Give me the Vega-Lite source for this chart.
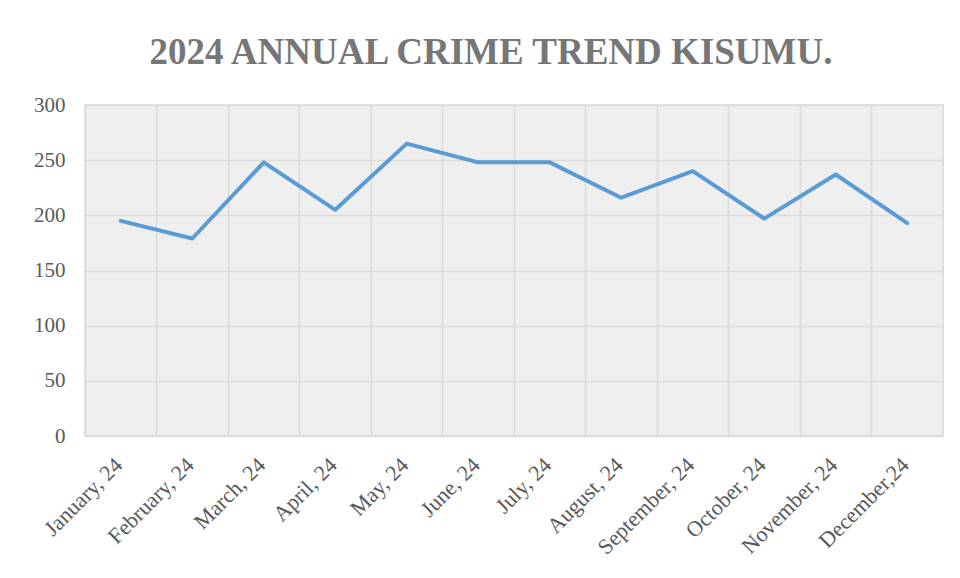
{
  "$schema": "https://vega.github.io/schema/vega-lite/v6.json",
  "width": 858,
  "height": 331,
  "autosize": {"type": "none"},
  "padding": {"left": 85, "top": 105, "right": 17, "bottom": 142},
  "background": "white",
  "title": {
    "text": "2024 ANNUAL CRIME TREND KISUMU.",
    "font": "Liberation Serif",
    "fontSize": 37,
    "fontWeight": "bold",
    "color": "#767676",
    "anchor": "middle",
    "dx": -23,
    "offset": 22
  },
  "data": {
    "values": [
      {"month": "January, 24", "crimes": 195},
      {"month": "February, 24", "crimes": 179},
      {"month": "March, 24", "crimes": 248},
      {"month": "April, 24", "crimes": 205},
      {"month": "May, 24", "crimes": 265},
      {"month": "June, 24", "crimes": 248},
      {"month": "July, 24", "crimes": 248},
      {"month": "August, 24", "crimes": 216},
      {"month": "September, 24", "crimes": 240},
      {"month": "October, 24", "crimes": 197},
      {"month": "November, 24", "crimes": 237},
      {"month": "December,24", "crimes": 193}
    ]
  },
  "config": {
    "view": {"stroke": "#d9d9d9", "strokeWidth": 1.5, "fill": "#efefef"},
    "axis": {
      "labelFont": "Liberation Serif",
      "labelColor": "#595959",
      "gridColor": "#dcdcdc",
      "gridWidth": 1.5
    }
  },
  "layer": [
    {
      "mark": {"type": "line", "color": "#5b9bd5", "strokeWidth": 4, "strokeJoin": "round", "strokeCap": "round"},
      "encoding": {
        "x": {
          "field": "month",
          "type": "ordinal",
          "sort": null,
          "scale": {"type": "band", "paddingInner": 0, "paddingOuter": 0},
          "bandPosition": 0.5,
          "axis": {
            "title": null,
            "orient": "bottom",
            "labelAngle": -45,
            "labelFontSize": 22,
            "grid": false,
            "ticks": false,
            "domain": false,
            "labelPadding": 18,
            "labelOffset": -9,
            "labelOverlap": false
          }
        },
        "y": {
          "field": "crimes",
          "type": "quantitative",
          "scale": {"domain": [0, 300], "nice": false},
          "axis": {
            "title": null,
            "values": [0, 50, 100, 150, 200, 250, 300],
            "labelFontSize": 21,
            "ticks": false,
            "domain": false,
            "labelPadding": 20,
            "grid": true
          }
        }
      }
    },
    {
      "mark": {"type": "point", "opacity": 0},
      "encoding": {
        "x": {
          "field": "month",
          "type": "ordinal",
          "sort": null,
          "axis": {
            "title": null,
            "orient": "top",
            "bandPosition": 0,
            "grid": true,
            "labels": false,
            "ticks": false,
            "domain": false
          }
        },
        "y": {"field": "crimes", "type": "quantitative"}
      }
    }
  ],
  "resolve": {"axis": {"x": "independent"}}
}
